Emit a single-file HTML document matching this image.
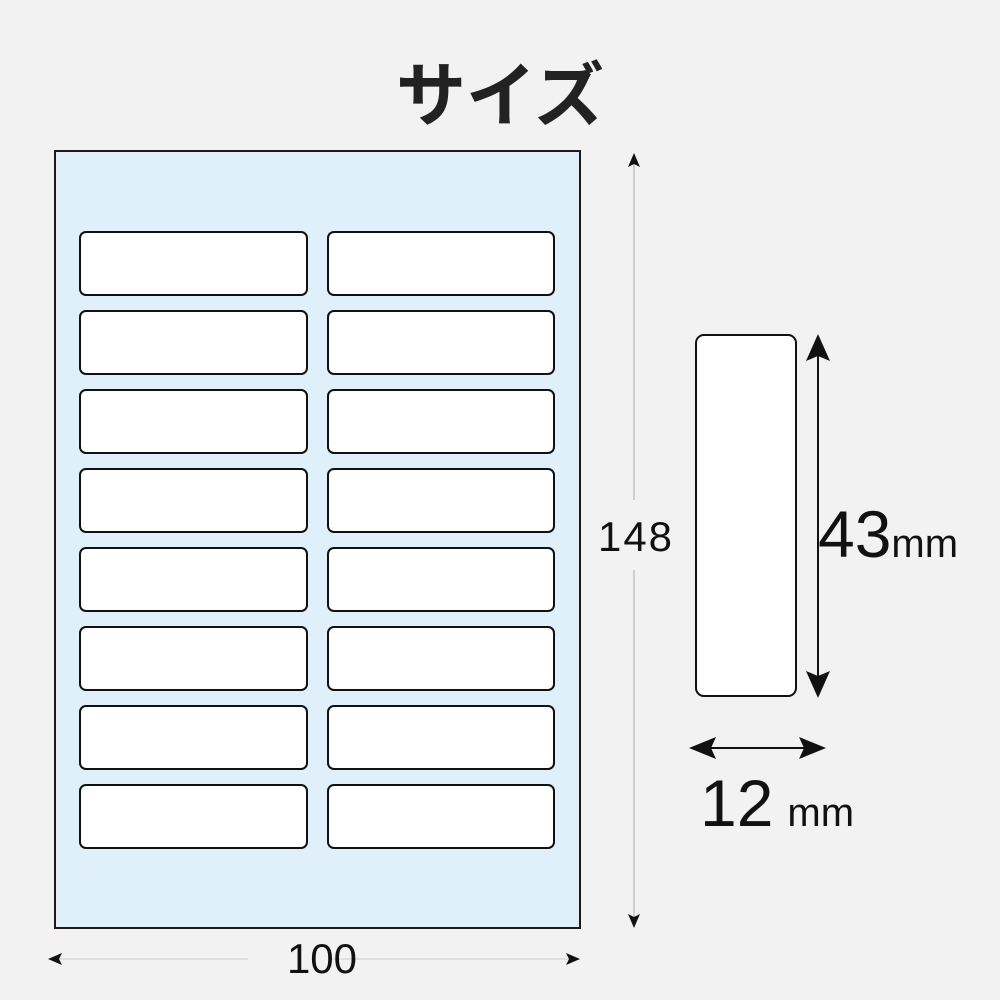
<!DOCTYPE html>
<html><head><style>
body{margin:0;background:#f2f2f2;}
</style></head><body>
<svg width="1000" height="1000" xmlns="http://www.w3.org/2000/svg" style="display:block">
<rect width="1000" height="1000" fill="#f2f2f2"/>
<text x="500" y="120" text-anchor="middle" font-family="Noto Sans CJK JP, sans-serif" font-weight="bold" font-size="70" fill="#222">サイズ</text>
<rect x="55" y="151" width="525" height="777" fill="#dff0fa" stroke="#231815" stroke-width="2"/>
<g fill="#fff" stroke="#111" stroke-width="2">
<rect x="80" y="232" width="227" height="63" rx="6"/><rect x="328" y="232" width="226" height="63" rx="6"/>
<rect x="80" y="311" width="227" height="63" rx="6"/><rect x="328" y="311" width="226" height="63" rx="6"/>
<rect x="80" y="390" width="227" height="63" rx="6"/><rect x="328" y="390" width="226" height="63" rx="6"/>
<rect x="80" y="469" width="227" height="63" rx="6"/><rect x="328" y="469" width="226" height="63" rx="6"/>
<rect x="80" y="548" width="227" height="63" rx="6"/><rect x="328" y="548" width="226" height="63" rx="6"/>
<rect x="80" y="627" width="227" height="63" rx="6"/><rect x="328" y="627" width="226" height="63" rx="6"/>
<rect x="80" y="706" width="227" height="63" rx="6"/><rect x="328" y="706" width="226" height="63" rx="6"/>
<rect x="80" y="785" width="227" height="63" rx="6"/><rect x="328" y="785" width="226" height="63" rx="6"/>
<rect x="696" y="335" width="100" height="361" rx="8"/>
</g>
<line x1="634" y1="160" x2="634" y2="500" stroke="#aaa" stroke-width="1"/>
<line x1="634" y1="570" x2="634" y2="922" stroke="#aaa" stroke-width="1"/>
<path d="M634 153 L628 167 L634 164 L640 167 Z" fill="#111"/>
<path d="M634 928 L628 914 L634 917 L640 914 Z" fill="#111"/>
<text x="635" y="551" text-anchor="middle" font-family="Liberation Sans, sans-serif" font-size="42" fill="#111" textLength="74">148</text>
<line x1="58" y1="959" x2="248" y2="959" stroke="#ccc" stroke-width="1"/>
<line x1="330" y1="959" x2="576" y2="959" stroke="#ccc" stroke-width="1"/>
<path d="M48 959 L62 953 L59 959 L62 965 Z" fill="#111"/>
<path d="M580 959 L566 953 L569 959 L566 965 Z" fill="#111"/>
<text x="322" y="973" text-anchor="middle" font-family="Liberation Sans, sans-serif" font-size="42" fill="#111">100</text>
<line x1="818" y1="350" x2="818" y2="682" stroke="#111" stroke-width="2"/>
<path d="M818 334 L806 361 L818 356 L830 361 Z" fill="#111"/>
<path d="M818 698 L806 671 L818 676 L830 671 Z" fill="#111"/>
<text x="818" y="557" font-family="Liberation Sans, sans-serif" font-size="66" fill="#111">43<tspan font-size="40">mm</tspan></text>
<line x1="700" y1="748" x2="815" y2="748" stroke="#111" stroke-width="2"/>
<path d="M689 748 L716 737 L711 748 L716 759 Z" fill="#111"/>
<path d="M826 748 L799 737 L804 748 L799 759 Z" fill="#111"/>
<text x="700" y="826" font-family="Liberation Sans, sans-serif" font-size="66" fill="#111">12<tspan dx="14" font-size="40">mm</tspan></text>
</svg>
</body></html>
